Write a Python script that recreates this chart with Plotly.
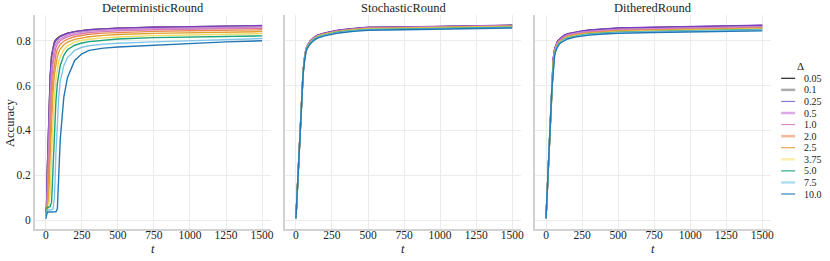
import plotly.graph_objects as go

W, H = 830, 261

# ---------------- data ----------------
t = [0, 5, 10, 20, 30, 40, 50, 60, 70, 80, 90, 100, 125, 150, 200, 250, 300, 400, 500, 750, 1000, 1250, 1500]

deltas = ["0.05", "0.1", "0.25", "0.5", "1.0", "2.0", "2.5", "3.75", "5.0", "7.5", "10.0"]
panels = ["DeterministicRound", "StochasticRound", "DitheredRound"]

# DeterministicRound
det_0_05 = [0.02, 0.07, 0.22, 0.47, 0.64, 0.735, 0.775, 0.795, 0.805, 0.812, 0.817, 0.821, 0.828, 0.834, 0.841, 0.846, 0.849, 0.853, 0.856, 0.860, 0.862, 0.864, 0.866]
det_0_1 = [0.02, 0.06, 0.20, 0.45, 0.62, 0.72, 0.77, 0.79, 0.80, 0.808, 0.814, 0.818, 0.826, 0.832, 0.840, 0.845, 0.848, 0.852, 0.855, 0.859, 0.862, 0.864, 0.865]
det_0_25 = [0.02, 0.06, 0.21, 0.46, 0.63, 0.73, 0.772, 0.793, 0.803, 0.810, 0.816, 0.820, 0.827, 0.833, 0.841, 0.846, 0.849, 0.853, 0.856, 0.860, 0.863, 0.865, 0.868]
det_0_5 = [0.02, 0.04, 0.12, 0.36, 0.55, 0.67, 0.735, 0.77, 0.787, 0.797, 0.804, 0.809, 0.818, 0.825, 0.834, 0.839, 0.843, 0.847, 0.850, 0.854, 0.857, 0.859, 0.861]
det_1_0 = [0.02, 0.035, 0.08, 0.28, 0.48, 0.62, 0.70, 0.745, 0.77, 0.785, 0.793, 0.800, 0.810, 0.818, 0.827, 0.833, 0.837, 0.841, 0.845, 0.849, 0.852, 0.854, 0.856]
det_2_0 = [0.02, 0.04, 0.05, 0.18, 0.38, 0.54, 0.64, 0.70, 0.74, 0.762, 0.776, 0.785, 0.798, 0.807, 0.818, 0.824, 0.829, 0.834, 0.837, 0.842, 0.845, 0.847, 0.849]
det_2_5 = [0.02, 0.04, 0.05, 0.10, 0.28, 0.45, 0.57, 0.65, 0.70, 0.73, 0.75, 0.763, 0.782, 0.794, 0.806, 0.813, 0.818, 0.824, 0.828, 0.833, 0.836, 0.838, 0.841]
det_3_75 = [0.02, 0.045, 0.05, 0.055, 0.12, 0.30, 0.45, 0.56, 0.63, 0.68, 0.71, 0.73, 0.76, 0.777, 0.794, 0.802, 0.807, 0.813, 0.817, 0.823, 0.826, 0.829, 0.832]
det_5_0 = [0.02, 0.05, 0.055, 0.058, 0.06, 0.08, 0.25, 0.42, 0.53, 0.61, 0.66, 0.69, 0.735, 0.76, 0.780, 0.790, 0.796, 0.803, 0.808, 0.814, 0.817, 0.820, 0.822]
det_7_5 = [0.02, 0.04, 0.045, 0.045, 0.045, 0.046, 0.05, 0.10, 0.30, 0.45, 0.55, 0.62, 0.69, 0.725, 0.757, 0.771, 0.778, 0.785, 0.789, 0.795, 0.800, 0.805, 0.810]
det_10_0 = [0.005, 0.03, 0.035, 0.036, 0.036, 0.036, 0.036, 0.036, 0.037, 0.05, 0.20, 0.36, 0.55, 0.635, 0.712, 0.742, 0.757, 0.767, 0.772, 0.780, 0.788, 0.795, 0.800]

# StochasticRound
sto_0_05 = [0.008, 0.072, 0.142, 0.283, 0.424, 0.555, 0.665, 0.725, 0.764, 0.779, 0.791, 0.799, 0.814, 0.824, 0.834, 0.842, 0.847, 0.854, 0.859, 0.861, 0.864, 0.866, 0.869]
sto_0_1 = [0.008, 0.072, 0.142, 0.283, 0.423, 0.554, 0.664, 0.724, 0.763, 0.778, 0.790, 0.798, 0.813, 0.823, 0.833, 0.841, 0.846, 0.853, 0.858, 0.860, 0.863, 0.865, 0.868]
sto_0_25 = [0.008, 0.073, 0.143, 0.284, 0.425, 0.556, 0.666, 0.726, 0.765, 0.780, 0.792, 0.800, 0.815, 0.825, 0.835, 0.843, 0.848, 0.855, 0.860, 0.862, 0.865, 0.867, 0.870]
sto_0_5 = [0.008, 0.071, 0.141, 0.282, 0.422, 0.553, 0.663, 0.723, 0.762, 0.777, 0.789, 0.797, 0.812, 0.822, 0.832, 0.840, 0.845, 0.852, 0.857, 0.859, 0.862, 0.864, 0.867]
sto_1_0 = [0.008, 0.071, 0.141, 0.281, 0.421, 0.552, 0.662, 0.722, 0.761, 0.776, 0.788, 0.796, 0.811, 0.821, 0.831, 0.839, 0.844, 0.851, 0.856, 0.858, 0.861, 0.863, 0.866]
sto_2_0 = [0.008, 0.070, 0.140, 0.280, 0.420, 0.550, 0.660, 0.720, 0.760, 0.775, 0.787, 0.795, 0.810, 0.820, 0.830, 0.838, 0.843, 0.850, 0.855, 0.857, 0.860, 0.862, 0.865]
sto_2_5 = [0.008, 0.070, 0.139, 0.279, 0.419, 0.549, 0.659, 0.719, 0.759, 0.774, 0.786, 0.794, 0.809, 0.819, 0.829, 0.837, 0.842, 0.849, 0.854, 0.856, 0.859, 0.861, 0.864]
sto_3_75 = [0.008, 0.069, 0.138, 0.278, 0.418, 0.548, 0.658, 0.718, 0.758, 0.773, 0.785, 0.793, 0.808, 0.818, 0.828, 0.836, 0.841, 0.848, 0.853, 0.855, 0.858, 0.860, 0.863]
sto_5_0 = [0.008, 0.069, 0.137, 0.277, 0.416, 0.546, 0.656, 0.716, 0.756, 0.771, 0.783, 0.791, 0.806, 0.816, 0.826, 0.834, 0.839, 0.846, 0.851, 0.853, 0.856, 0.858, 0.861]
sto_7_5 = [0.008, 0.068, 0.136, 0.275, 0.414, 0.544, 0.654, 0.714, 0.754, 0.769, 0.781, 0.789, 0.804, 0.814, 0.824, 0.832, 0.837, 0.844, 0.849, 0.851, 0.854, 0.856, 0.859]
sto_10_0 = [0.008, 0.067, 0.134, 0.272, 0.411, 0.541, 0.651, 0.711, 0.752, 0.767, 0.779, 0.787, 0.802, 0.812, 0.822, 0.830, 0.835, 0.842, 0.847, 0.849, 0.852, 0.854, 0.857]

# DitheredRound
dit_0_05 = [0.008, 0.080, 0.160, 0.320, 0.480, 0.620, 0.720, 0.764, 0.784, 0.797, 0.805, 0.811, 0.823, 0.831, 0.838, 0.843, 0.847, 0.852, 0.856, 0.859, 0.862, 0.865, 0.868]
dit_0_1 = [0.008, 0.079, 0.159, 0.318, 0.477, 0.617, 0.717, 0.762, 0.782, 0.795, 0.803, 0.809, 0.821, 0.829, 0.836, 0.841, 0.845, 0.850, 0.854, 0.857, 0.860, 0.863, 0.866]
dit_0_25 = [0.008, 0.080, 0.160, 0.320, 0.480, 0.620, 0.720, 0.765, 0.785, 0.798, 0.806, 0.812, 0.824, 0.832, 0.839, 0.844, 0.848, 0.853, 0.857, 0.860, 0.863, 0.866, 0.869]
dit_0_5 = [0.008, 0.078, 0.157, 0.315, 0.473, 0.613, 0.713, 0.759, 0.779, 0.792, 0.800, 0.806, 0.818, 0.826, 0.833, 0.838, 0.842, 0.847, 0.851, 0.854, 0.857, 0.860, 0.863]
dit_1_0 = [0.008, 0.077, 0.155, 0.312, 0.469, 0.609, 0.709, 0.756, 0.776, 0.789, 0.797, 0.803, 0.815, 0.823, 0.830, 0.835, 0.839, 0.844, 0.848, 0.851, 0.854, 0.857, 0.860]
dit_2_0 = [0.008, 0.076, 0.153, 0.309, 0.465, 0.605, 0.705, 0.753, 0.773, 0.786, 0.794, 0.800, 0.812, 0.820, 0.827, 0.832, 0.836, 0.841, 0.845, 0.848, 0.851, 0.854, 0.857]
dit_2_5 = [0.008, 0.075, 0.151, 0.306, 0.461, 0.601, 0.701, 0.750, 0.771, 0.784, 0.792, 0.798, 0.810, 0.818, 0.825, 0.830, 0.834, 0.839, 0.843, 0.846, 0.849, 0.852, 0.855]
dit_3_75 = [0.008, 0.074, 0.149, 0.302, 0.456, 0.596, 0.696, 0.747, 0.768, 0.781, 0.790, 0.796, 0.808, 0.815, 0.823, 0.828, 0.832, 0.837, 0.840, 0.844, 0.847, 0.850, 0.853]
dit_5_0 = [0.008, 0.073, 0.147, 0.299, 0.452, 0.592, 0.692, 0.744, 0.766, 0.779, 0.788, 0.794, 0.806, 0.813, 0.821, 0.826, 0.830, 0.835, 0.838, 0.842, 0.845, 0.848, 0.851]
dit_7_5 = [0.008, 0.072, 0.144, 0.295, 0.447, 0.587, 0.687, 0.740, 0.763, 0.777, 0.786, 0.792, 0.804, 0.811, 0.819, 0.824, 0.828, 0.833, 0.836, 0.840, 0.843, 0.845, 0.848]
dit_10_0 = [0.008, 0.070, 0.140, 0.290, 0.440, 0.580, 0.680, 0.735, 0.760, 0.774, 0.783, 0.790, 0.801, 0.808, 0.816, 0.821, 0.825, 0.830, 0.833, 0.837, 0.840, 0.842, 0.844]

x_tick_vals = [0, 250, 500, 750, 1000, 1250, 1500]
x_tick_text = ["0", "250", "500", "750", "1000", "1250", "1500"]
y_tick_vals = [0, 0.2, 0.4, 0.6, 0.8]
y_tick_text = ["0", "0.2", "0.4", "0.6", "0.8"]

# ---------------- style ----------------
line_colors = ["#222222", "#999999", "#7e3fbf", "#c98ad9", "#d67bb8", "#e98a50",
               "#e0a030", "#f0dc60", "#1aa37a", "#80c6ec", "#2277b4"]
legend_colors = ["#222222", "#aaaaaa", "#8a78d8", "#dca8e6", "#d890c0", "#f2b898",
                 "#e2aa50", "#f8f0a8", "#2aa888", "#b0dcf4", "#3a82b8"]
legend_widths = [1.2, 2.5, 1.2, 2.5, 1.2, 2.5, 1.2, 2.5, 1.2, 2.5, 1.2]

FONT = "Liberation Serif"
TXT = "#222222"

series = {
    "DeterministicRound": [det_0_05, det_0_1, det_0_25, det_0_5, det_1_0, det_2_0, det_2_5, det_3_75, det_5_0, det_7_5, det_10_0],
    "StochasticRound": [sto_0_05, sto_0_1, sto_0_25, sto_0_5, sto_1_0, sto_2_0, sto_2_5, sto_3_75, sto_5_0, sto_7_5, sto_10_0],
    "DitheredRound": [dit_0_05, dit_0_1, dit_0_25, dit_0_5, dit_1_0, dit_2_0, dit_2_5, dit_3_75, dit_5_0, dit_7_5, dit_10_0],
}

# pixel layout of the panels
px_x = [(35, 272), (286, 523), (537, 774)]
px_y_top, px_y_bot = 15, 229

def fx(px):
    return px / W

def fy(py):
    return 1 - py / H

fig = go.Figure()

for p, name in enumerate(panels):
    ax = "" if p == 0 else str(p + 1)
    for i, d in enumerate(deltas):
        fig.add_trace(go.Scatter(
            x=t, y=series[name][i], mode="lines",
            line=dict(color=line_colors[i], width=1.4),
            name=d, showlegend=False,
            xaxis="x" + ax, yaxis="y" + ax,
        ))

layout = dict(
    width=W, height=H,
    margin=dict(l=0, r=0, t=0, b=0),
    paper_bgcolor="white", plot_bgcolor="white",
    font=dict(family=FONT, color=TXT, size=11),
    showlegend=False,
)

for p in range(3):
    ax = "" if p == 0 else str(p + 1)
    layout["xaxis" + ax] = dict(
        domain=[fx(px_x[p][0]), fx(px_x[p][1])],
        range=[-76, 1562], anchor="y" + ax,
        tickvals=x_tick_vals, ticktext=x_tick_text,
        showgrid=True, gridcolor="#ebebeb", gridwidth=1,
        zeroline=False, showline=True, linecolor="#d2d2d2", linewidth=1.5,
        ticks="", ticklabelstandoff=-6,
        tickfont=dict(size=11.5, family=FONT, color=TXT),
    )
    layout["yaxis" + ax] = dict(
        domain=[fy(px_y_bot), fy(px_y_top)],
        range=[-0.04, 0.915], anchor="x" + ax,
        tickvals=y_tick_vals, ticktext=y_tick_text,
        showgrid=True, gridcolor="#ebebeb", gridwidth=1,
        zeroline=False, showline=True, linecolor="#d2d2d2", linewidth=1.5,
        ticks="", showticklabels=(p == 0),
        tickfont=dict(size=11.5, family=FONT, color=TXT),
    )

annotations = []
shapes = []
for p, name in enumerate(panels):
    cx = (px_x[p][0] + px_x[p][1]) / 2
    annotations.append(dict(text=name, x=fx(cx), y=fy(8), xref="paper", yref="paper",
                            showarrow=False, xanchor="center", yanchor="middle",
                            font=dict(size=12.5, family=FONT, color=TXT)))
    annotations.append(dict(text="<i>t</i>", x=fx(cx), y=fy(249), xref="paper", yref="paper",
                            showarrow=False, xanchor="center", yanchor="middle",
                            font=dict(size=12.5, family=FONT, color=TXT)))

annotations.append(dict(text="Accuracy", x=fx(10), y=fy(122), xref="paper", yref="paper",
                        showarrow=False, textangle=-90, xanchor="center", yanchor="middle",
                        font=dict(size=12.5, family=FONT, color=TXT)))

# legend (drawn manually to get compact spacing)
annotations.append(dict(text="Δ", x=fx(803), y=fy(66), xref="paper", yref="paper",
                        showarrow=False, xanchor="center", yanchor="middle",
                        font=dict(size=11, family=FONT, color=TXT)))
for i, d in enumerate(deltas):
    yy = 78.3 + i * 11.57
    shapes.append(dict(type="line", xref="paper", yref="paper",
                       x0=fx(784), x1=fx(798), y0=fy(yy), y1=fy(yy),
                       line=dict(color=legend_colors[i], width=legend_widths[i])))
    annotations.append(dict(text=d, x=fx(805), y=fy(yy), xref="paper", yref="paper",
                            showarrow=False, xanchor="left", yanchor="middle",
                            font=dict(size=10, family=FONT, color=TXT)))

layout["annotations"] = annotations
layout["shapes"] = shapes
fig.update_layout(**layout)

fig.write_html("out.html", config={"displayModeBar": False},
               post_script="document.body.style.margin='0';document.body.style.overflow='hidden';")
